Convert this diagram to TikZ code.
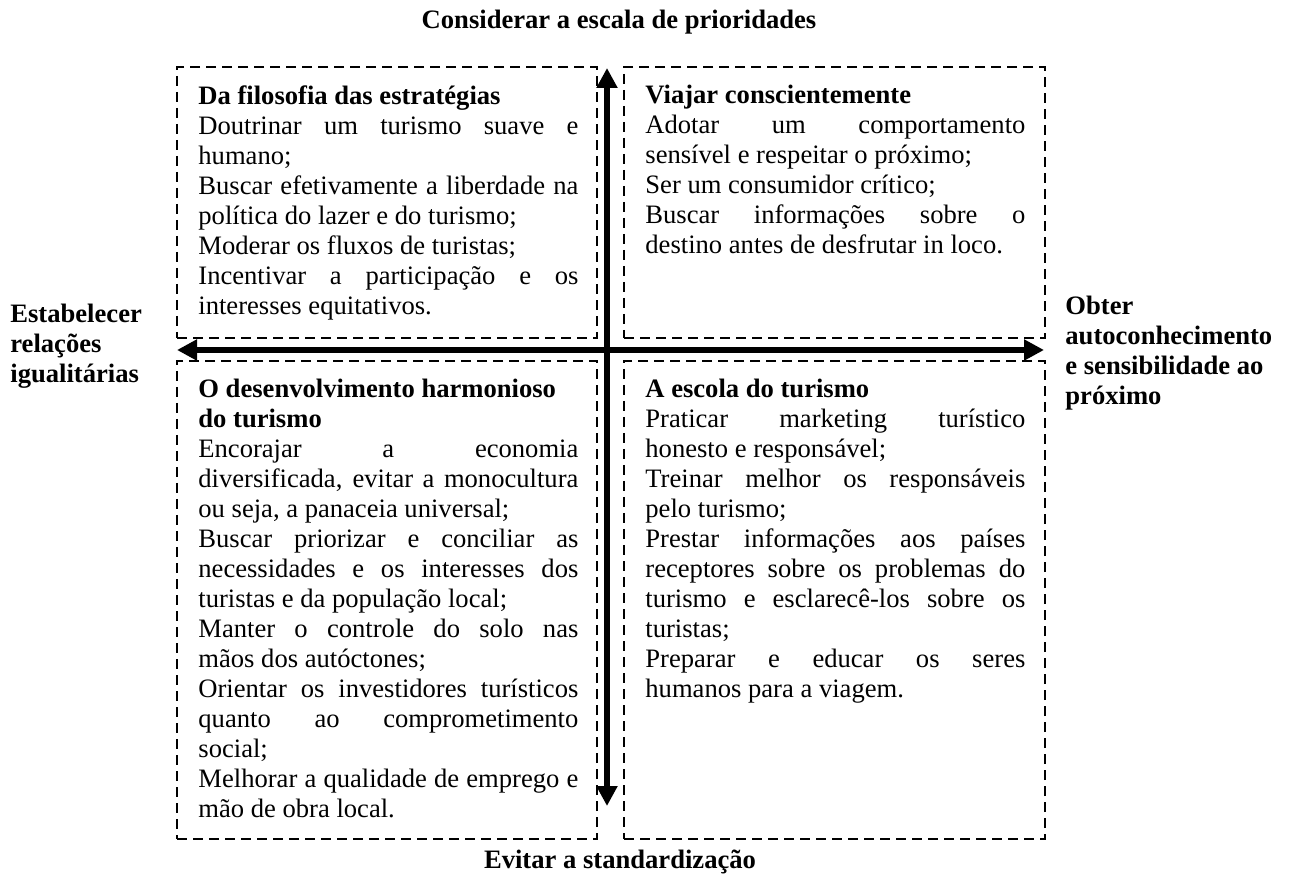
\documentclass[tikz,border=0pt]{standalone}
\usepackage{fontspec}
\setmainfont{Liberation Serif}
\usetikzlibrary{arrows.meta, positioning}
\setlength{\parindent}{0pt}
\tolerance=9999
\hbadness=10000
\newcommand{\quadfont}{\fontsize{13.3}{15}\selectfont}

\begin{document}
\begin{tikzpicture}[x=0.5pt, y=-0.5pt, font=\quadfont,
  Frame/.style={draw, dash pattern=on 5pt off 3pt, line width=1pt, inner sep=0pt, outer sep=0pt},
  Body/.style={inner sep=0pt, text width=190pt, align=justify, font=\quadfont},
  Label/.style={inner sep=0pt, align=left, font=\quadfont\bfseries},
  Axis/.style={{Triangle[length=10pt, width=10pt]}-{Triangle[length=10pt, width=10pt]}, line width=3.25pt}]

\useasboundingbox [fill=white] (0,0) rectangle (1289,881);

\foreach \name/\cx/\cy/\w/\h in {tl/387/202.5/210/135.5, tr/834.5/202.5/210.5/135.5, bl/387/600/210/239, br/834.5/600/210.5/239} {
  \node [Frame, minimum width=\w pt, minimum height=\h pt] (\name) at (\cx,\cy) {};
}

\node [Body, below right=9pt and 10.5pt of tl.north west] (filosofia) {%
  \textbf{Da filosofia das estratégias}\par
  Doutrinar um turismo suave e\linebreak humano;\par
  Buscar efetivamente a liberdade na\linebreak política do lazer e do turismo;\par
  Moderar os fluxos de turistas;\par
  Incentivar a participação e os\linebreak interesses equitativos.};

\node [Body, below right=9pt and 10.5pt of tr.north west] (viajar) {%
  \textbf{Viajar conscientemente}\par
  Adotar um comportamento\linebreak sensível e respeitar o próximo;\par
  Ser um consumidor crítico;\par
  Buscar informações sobre o\linebreak destino antes de desfrutar in loco.};

\node [Body, below right=9pt and 10.5pt of bl.north west] (harmonioso) {%
  \textbf{O desenvolvimento harmonioso\newline do turismo}\par
  Encorajar a economia\linebreak diversificada, evitar a monocultura\linebreak ou seja, a panaceia universal;\par
  Buscar priorizar e conciliar as\linebreak necessidades e os interesses dos\linebreak turistas e da população local;\par
  Manter o controle do solo nas\linebreak mãos dos autóctones;\par
  Orientar os investidores turísticos\linebreak quanto ao comprometimento\linebreak social;\par
  Melhorar a qualidade de emprego e\linebreak mão de obra local.};

\node [Body, below right=9pt and 10.5pt of br.north west] (escola) {%
  \textbf{A escola do turismo}\par
  Praticar marketing turístico\linebreak honesto e responsável;\par
  Treinar melhor os responsáveis\linebreak pelo turismo;\par
  Prestar informações aos países\linebreak receptores sobre os problemas do\linebreak turismo e esclarecê-los sobre os\linebreak turistas;\par
  Preparar e educar os seres\linebreak humanos para a viagem.};

\coordinate (N) at (607,68);
\coordinate (S) at (607,806);
\coordinate (W) at (177,350);
\coordinate (E) at (1044,350);

\draw [Axis] (S) -- (N);
\draw [Axis] (W) -- (E);

\node [Label] (prioridades) at (619,22) {Considerar a escala de prioridades};
\node [Label] (standard) at (620,862) {Evitar a standardização};
\node [Label, anchor=west] (igualitarias) at (10,346) {Estabelecer\\relações\\igualitárias};
\node [Label, anchor=west] (proximo) at (1065,353) {Obter\\autoconhecimento\\e sensibilidade ao\\próximo};
\end{tikzpicture}
\end{document}
